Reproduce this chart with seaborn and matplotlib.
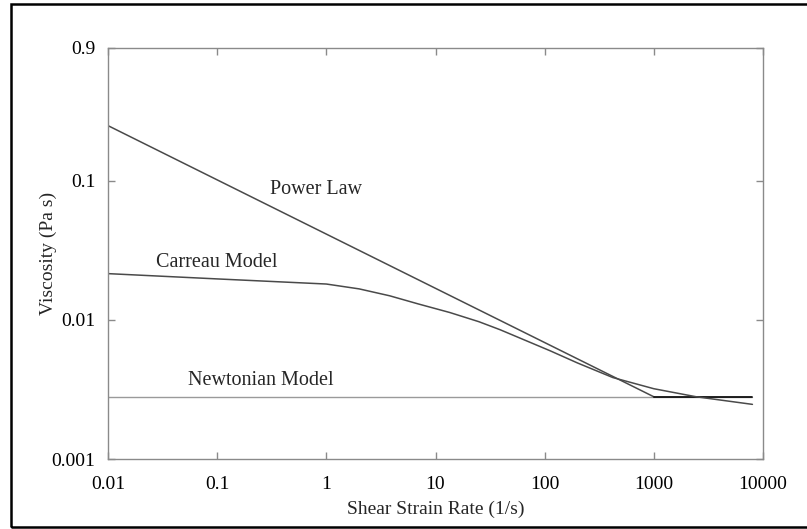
import matplotlib
matplotlib.use("Agg")
import matplotlib.pyplot as plt
import matplotlib.patches as mpatches
import seaborn as sns
import pandas as pd

# ---- data ----
power_x = [0.01, 1000]
power_y = [0.249, 0.0028]
power_tail_x = [1000, 8000]
power_tail_y = [0.0028, 0.0028]

newton_x = [0.01, 8000]
newton_y = [0.0028, 0.0028]

carreau_x = [0.01, 0.1, 1, 2, 3.8, 7, 13.5, 25, 39, 112, 200, 421, 1000, 2450, 8000]
carreau_y = [0.0215, 0.0197, 0.0181, 0.0167, 0.0149, 0.0130, 0.0113, 0.0097,
             0.0085, 0.0060, 0.0049, 0.00385, 0.0032, 0.0028, 0.00247]

x_ticks = [0.01, 0.1, 1, 10, 100, 1000, 10000]
x_tick_labels = ["0.01", "0.1", "1", "10", "100", "1000", "10000"]
y_ticks = [0.001, 0.01, 0.1, 0.9]
y_tick_labels = ["0.001", "0.01", "0.1", "0.9"]

sns.set_style("ticks")
plt.rcParams["font.family"] = ["Liberation Serif", "DejaVu Serif"]

fig = plt.figure(figsize=(8.07, 5.29), dpi=100)
ax = fig.add_axes([108 / 807, 1 - 459 / 529, (763 - 108) / 807, (459 - 48) / 529])

df_p = pd.DataFrame({"x": power_x, "y": power_y})
df_pt = pd.DataFrame({"x": power_tail_x, "y": power_tail_y})
df_n = pd.DataFrame({"x": newton_x, "y": newton_y})
df_c = pd.DataFrame({"x": carreau_x, "y": carreau_y})

sns.lineplot(data=df_n, x="x", y="y", ax=ax, color="#9a9a9a", linewidth=1.0, estimator=None, sort=False)
sns.lineplot(data=df_p, x="x", y="y", ax=ax, color="#4a4a4a", linewidth=1.1, estimator=None, sort=False)
sns.lineplot(data=df_pt, x="x", y="y", ax=ax, color="#111111", linewidth=1.3, estimator=None, sort=False)
sns.lineplot(data=df_c, x="x", y="y", ax=ax, color="#4a4a4a", linewidth=1.1, estimator=None, sort=False)

ax.set_xscale("log")
ax.set_yscale("log")
ax.set_xlim(0.01, 10000)
ax.set_ylim(0.001, 0.9)
ax.set_xticks(x_ticks)
ax.set_xticklabels(x_tick_labels)
ax.set_yticks(y_ticks)
ax.set_yticklabels(y_tick_labels)
ax.minorticks_off()

for s in ax.spines.values():
    s.set_visible(True)
    s.set_color("#8a8a8a")
    s.set_linewidth(1.0)

ax.tick_params(axis="both", which="major", direction="in", length=5, width=1.0,
               color="#8a8a8a", labelsize=14, top=True, right=True, labelcolor="black")
ax.tick_params(axis="x", pad=12)
ax.tick_params(axis="y", pad=9)

ax.set_xlabel("Shear Strain Rate (1/s)", fontsize=14, labelpad=6)
ax.set_ylabel("Viscosity (Pa s)", fontsize=14, labelpad=-4)

# annotation labels positioned in data coordinates
ax.text(0.80, 0.086, "Power Law", fontsize=14.5, ha="center", va="center")
ax.text(0.10, 0.0257, "Carreau Model", fontsize=14.5, ha="center", va="center")
ax.text(0.252, 0.00364, "Newtonian Model", fontsize=14.5, ha="center", va="center")

# outer frame around the figure
frame = mpatches.Rectangle((11 / 807, 2 / 529), 1.2, 523 / 529, transform=fig.transFigure,
                           fill=False, edgecolor="black", linewidth=1.8, clip_on=False)
fig.patches.append(frame)

fig.savefig("out.png", dpi=100)
